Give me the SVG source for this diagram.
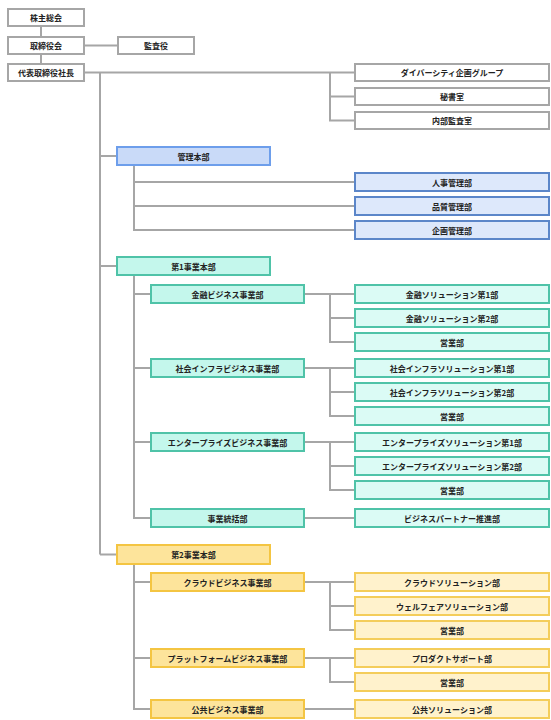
<svg xmlns="http://www.w3.org/2000/svg" width="551" height="720" viewBox="0 0 551 720">
<style>
.w{fill:#fff;stroke:#a6a6a6;stroke-width:2}
.b1{fill:#c9daf8;stroke:#6d9eeb;stroke-width:2}
.b2{fill:#dde8fb;stroke:#5b86c9;stroke-width:2}
.t1{fill:#c4f7ec;stroke:#4fc3a8;stroke-width:2}
.t2{fill:#dbfbf5;stroke:#4fc3a8;stroke-width:2}
.y1{fill:#fde49b;stroke:#f4c542;stroke-width:2}
.y2{fill:#fff2cc;stroke:#f4cd5a;stroke-width:2}
text{font-family:"Noto Sans CJK JP","Noto Sans",sans-serif;font-size:8px;font-weight:bold;fill:#222;text-anchor:middle;dominant-baseline:central}
#connectors path{fill:none;stroke:#a6a6a6;stroke-width:2}
</style>
<g id="connectors">
<path d="M41 26V37M84 45.5H118M41 54V64"/>
<path d="M84 72.5H355M330 72.5V120.5H355M330 96.5H355"/>
<path d="M100 72.5V554.5M100 156H117M100 266H117M100 554.5H117"/>
<path d="M134 165V230H355M134 182H355M134 206H355"/>
<path d="M134 275V518H151M134 294H151M134 368H151M134 442H151"/>
<path d="M304 294H355M330 294V342H355M330 318H355"/>
<path d="M304 368H355M330 368V416H355M330 392H355"/>
<path d="M304 442H355M330 442V490H355M330 466H355"/>
<path d="M304 518H355"/>
<path d="M134 563V709H151M134 582H151M134 658H151"/>
<path d="M304 582H355M330 582V630H355M330 606H355"/>
<path d="M304 658H355M330 658V682H355"/>
<path d="M304 709H355"/>
</g>
<g id="n1"><rect class="w" x="8" y="9" width="76" height="17"/><text x="46" y="17.5">株主総会</text></g>
<g id="n2"><rect class="w" x="8" y="37" width="76" height="17"/><text x="46" y="45.5">取締役会</text></g>
<g id="n3"><rect class="w" x="118" y="37" width="76" height="17"/><text x="156" y="45.5">監査役</text></g>
<g id="n4"><rect class="w" x="8" y="64" width="76" height="17"/><text x="46" y="72.5">代表取締役社長</text></g>
<g id="n5"><rect class="w" x="355" y="64" width="194" height="17"/><text x="452" y="72.5">ダイバーシティ企画グループ</text></g>
<g id="n6"><rect class="w" x="355" y="88" width="194" height="17"/><text x="452" y="96.5">秘書室</text></g>
<g id="n7"><rect class="w" x="355" y="112" width="194" height="17"/><text x="452" y="120.5">内部監査室</text></g>
<g id="n8"><rect class="b1" x="117" y="147" width="153" height="18"/><text x="193.5" y="156">管理本部</text></g>
<g id="n9"><rect class="b2" x="355" y="173" width="194" height="18"/><text x="452" y="182">人事管理部</text></g>
<g id="n10"><rect class="b2" x="355" y="197" width="194" height="18"/><text x="452" y="206">品質管理部</text></g>
<g id="n11"><rect class="b2" x="355" y="221" width="194" height="18"/><text x="452" y="230">企画管理部</text></g>
<g id="n12"><rect class="t1" x="117" y="257" width="153" height="18"/><text x="193.5" y="266">第1事業本部</text></g>
<g id="n13"><rect class="t1" x="151" y="285" width="153" height="18"/><text x="227.5" y="294">金融ビジネス事業部</text></g>
<g id="n14"><rect class="t2" x="355" y="285" width="194" height="18"/><text x="452" y="294">金融ソリューション第1部</text></g>
<g id="n15"><rect class="t2" x="355" y="309" width="194" height="18"/><text x="452" y="318">金融ソリューション第2部</text></g>
<g id="n16"><rect class="t2" x="355" y="333" width="194" height="18"/><text x="452" y="342">営業部</text></g>
<g id="n17"><rect class="t1" x="151" y="359" width="153" height="18"/><text x="227.5" y="368">社会インフラビジネス事業部</text></g>
<g id="n18"><rect class="t2" x="355" y="359" width="194" height="18"/><text x="452" y="368">社会インフラソリューション第1部</text></g>
<g id="n19"><rect class="t2" x="355" y="383" width="194" height="18"/><text x="452" y="392">社会インフラソリューション第2部</text></g>
<g id="n20"><rect class="t2" x="355" y="407" width="194" height="18"/><text x="452" y="416">営業部</text></g>
<g id="n21"><rect class="t1" x="151" y="433" width="153" height="18"/><text x="227.5" y="442">エンタープライズビジネス事業部</text></g>
<g id="n22"><rect class="t2" x="355" y="433" width="194" height="18"/><text x="452" y="442">エンタープライズソリューション第1部</text></g>
<g id="n23"><rect class="t2" x="355" y="457" width="194" height="18"/><text x="452" y="466">エンタープライズソリューション第2部</text></g>
<g id="n24"><rect class="t2" x="355" y="481" width="194" height="18"/><text x="452" y="490">営業部</text></g>
<g id="n25"><rect class="t1" x="151" y="509" width="153" height="18"/><text x="227.5" y="518">事業統括部</text></g>
<g id="n26"><rect class="t2" x="355" y="509" width="194" height="18"/><text x="452" y="518">ビジネスパートナー推進部</text></g>
<g id="n27"><rect class="y1" x="117" y="545" width="153" height="19"/><text x="193.5" y="554.5">第2事業本部</text></g>
<g id="n28"><rect class="y1" x="151" y="573" width="153" height="18"/><text x="227.5" y="582">クラウドビジネス事業部</text></g>
<g id="n29"><rect class="y2" x="355" y="573" width="194" height="18"/><text x="452" y="582">クラウドソリューション部</text></g>
<g id="n30"><rect class="y2" x="355" y="597" width="194" height="18"/><text x="452" y="606">ウェルフェアソリューション部</text></g>
<g id="n31"><rect class="y2" x="355" y="621" width="194" height="18"/><text x="452" y="630">営業部</text></g>
<g id="n32"><rect class="y1" x="151" y="649" width="153" height="18"/><text x="227.5" y="658">プラットフォームビジネス事業部</text></g>
<g id="n33"><rect class="y2" x="355" y="649" width="194" height="18"/><text x="452" y="658">プロダクトサポート部</text></g>
<g id="n34"><rect class="y2" x="355" y="673" width="194" height="18"/><text x="452" y="682">営業部</text></g>
<g id="n35"><rect class="y1" x="151" y="700" width="153" height="18"/><text x="227.5" y="709">公共ビジネス事業部</text></g>
<g id="n36"><rect class="y2" x="355" y="700" width="194" height="18"/><text x="452" y="709">公共ソリューション部</text></g>
</svg>
